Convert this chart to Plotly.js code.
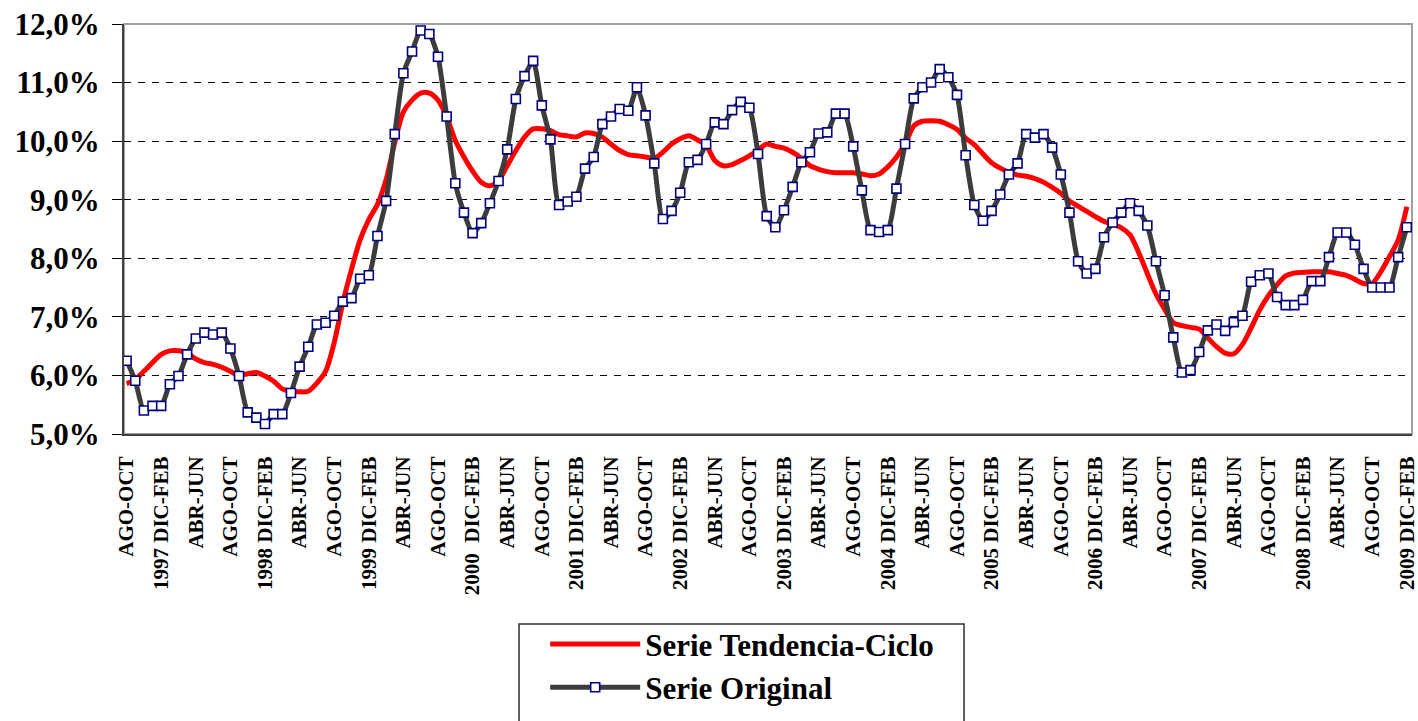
<!DOCTYPE html>
<html>
<head>
<meta charset="utf-8">
<script src="https://cdn.plot.ly/plotly-3.0.1.min.js"></script>
<style>
  html, body { margin: 0; padding: 0; background: #fff; }
  #chart { width: 1418px; height: 721px; }
</style>
</head>
<body>
<div id="chart"></div>
<script>
// Monthly rolling trimesters, AGO-OCT 1996 .. DIC-FEB 2009 (values in %)
const original = [
  6.25, 5.91, 5.40, 5.48, 5.48, 5.85, 5.99, 6.36, 6.63, 6.73, 6.70, 6.73, 6.46, 5.99,
  5.37, 5.28, 5.17, 5.34, 5.34, 5.70, 6.15, 6.49, 6.87, 6.90, 7.02, 7.26, 7.32, 7.65,
  7.71, 8.38, 8.98, 10.12, 11.16, 11.53, 11.89, 11.83, 11.44, 10.42, 9.28, 8.78, 8.43,
  8.60, 8.94, 9.32, 9.86, 10.72, 11.11, 11.37, 10.61, 10.03, 8.91, 8.97, 9.05, 9.53,
  9.73, 10.29, 10.42, 10.55, 10.52, 10.92, 10.44, 9.62, 8.67, 8.81, 9.12, 9.64, 9.68,
  9.95, 10.32, 10.29, 10.53, 10.67, 10.57, 9.78, 8.72, 8.53, 8.82, 9.22, 9.64, 9.81,
  10.13, 10.15, 10.47, 10.47, 9.91, 9.16, 8.48, 8.45, 8.48, 9.19, 9.95, 10.73, 10.92,
  11.00, 11.23, 11.09, 10.79, 9.76, 8.91, 8.64, 8.81, 9.09, 9.43, 9.62, 10.12, 10.06,
  10.12, 9.89, 9.43, 8.78, 7.95, 7.74, 7.82, 8.36, 8.61, 8.78, 8.94, 8.81, 8.56, 7.95,
  7.37, 6.65, 6.05, 6.09, 6.40, 6.77, 6.87, 6.76, 6.91, 7.02, 7.60, 7.71, 7.74, 7.34,
  7.20, 7.20, 7.29, 7.61, 7.61, 8.02, 8.44, 8.44, 8.23, 7.82, 7.50, 7.50, 7.50, 8.02,
  8.53
];

const trend = [
  5.86, 5.93, 6.07, 6.22, 6.36, 6.42, 6.42, 6.39, 6.28, 6.22, 6.19, 6.14, 6.07, 6.00,
  6.03, 6.05, 5.99, 5.90, 5.77, 5.73, 5.72, 5.73, 5.87, 6.07, 6.56, 7.24, 7.81, 8.32,
  8.66, 8.92, 9.34, 9.98, 10.50, 10.70, 10.82, 10.82, 10.70, 10.42, 10.01, 9.73, 9.49,
  9.30, 9.24, 9.33, 9.58, 9.84, 10.07, 10.21, 10.21, 10.18, 10.11, 10.09, 10.07, 10.14,
  10.13, 10.07, 9.95, 9.84, 9.77, 9.75, 9.73, 9.71, 9.81, 9.95, 10.04, 10.09, 10.02,
  9.93, 9.67, 9.58, 9.60, 9.67, 9.75, 9.85, 9.95, 9.91, 9.88, 9.81, 9.71, 9.58,
  9.52, 9.48, 9.46, 9.46, 9.46, 9.44, 9.41, 9.44, 9.56, 9.73, 9.95, 10.26, 10.34,
  10.35, 10.34, 10.28, 10.20, 10.05, 9.94, 9.78, 9.63, 9.54, 9.47, 9.42, 9.40, 9.36,
  9.30, 9.21, 9.11, 8.98, 8.89, 8.80, 8.71, 8.63, 8.58, 8.52, 8.40, 8.10, 7.74, 7.39,
  7.13, 6.90, 6.85, 6.82, 6.79, 6.64, 6.49, 6.38, 6.37, 6.53, 6.81, 7.12, 7.36, 7.55,
  7.70, 7.75, 7.76, 7.77, 7.77, 7.77, 7.74, 7.71, 7.64, 7.57, 7.57, 7.77, 8.03, 8.31,
  8.88
];

const tickLabels = [
  'AGO-OCT', '1997 DIC-FEB', 'ABR-JUN', 'AGO-OCT', '1998 DIC-FEB', 'ABR-JUN',
  'AGO-OCT', '1999 DIC-FEB', 'ABR-JUN', 'AGO-OCT', '2000\u00a0 DIC-FEB', 'ABR-JUN',
  'AGO-OCT', '2001 DIC-FEB', 'ABR-JUN', 'AGO-OCT', '2002 DIC-FEB', 'ABR-JUN',
  'AGO-OCT', '2003 DIC-FEB', 'ABR-JUN', 'AGO-OCT', '2004 DIC-FEB', 'ABR-JUN',
  'AGO-OCT', '2005 DIC-FEB', 'ABR-JUN', 'AGO-OCT', '2006 DIC-FEB', 'ABR-JUN',
  'AGO-OCT', '2007 DIC-FEB', 'ABR-JUN', 'AGO-OCT', '2008 DIC-FEB', 'ABR-JUN',
  'AGO-OCT', '2009 DIC-FEB'
];

const yTickVals = [5, 6, 7, 8, 9, 10, 11, 12];
const yTickLabels = ['5,0%', '6,0%', '7,0%', '8,0%', '9,0%', '10,0%', '11,0%', '12,0%'];

const MONTHS = ['ENE', 'FEB', 'MAR', 'ABR', 'MAY', 'JUN', 'JUL', 'AGO', 'SEP', 'OCT', 'NOV', 'DIC'];

// one category per rolling trimester, first one starting in August 1996
const periods = original.map((_, i) => {
  const m = (7 + i) % 12;
  const yr = 1996 + Math.floor((7 + i) / 12);
  return MONTHS[m] + '-' + MONTHS[(m + 2) % 12] + ' ' + yr;
});
const tickVals = periods.filter((_, i) => i % 4 === 0);

const FONT = 'Liberation Serif';

const traces = [
  {
    name: 'Serie Tendencia-Ciclo',
    x: periods, y: trend,
    type: 'scatter', mode: 'lines',
    line: { color: '#ff0000', width: 5, shape: 'spline', smoothing: 0.8 },
    legendgroup: 'a',
  },
  {
    name: 'Serie Original',
    x: periods, y: original,
    type: 'scatter', mode: 'lines+markers',
    line: { color: '#3c3c3c', width: 5, shape: 'spline', smoothing: 0.6 },
    marker: { symbol: 'square', size: 9, color: '#ffffff', line: { color: '#000080', width: 1.6 } },
    legendgroup: 'b',
  },
];

const layout = {
  width: 1418,
  height: 721,
  margin: { l: 124, r: 6, t: 24, b: 287 },
  paper_bgcolor: '#ffffff',
  plot_bgcolor: '#ffffff',
  font: { family: FONT, size: 21, color: '#000000', weight: 'bold' },
  showlegend: true,
  legend: {
    x: 0.327, xanchor: 'left',
    y: -0.447, yanchor: 'top',
    borderwidth: 0,
    bgcolor: 'rgba(0,0,0,0)',
    font: { family: FONT, size: 31, color: '#000000', weight: 'bold' },
    itemwidth: 90,
    tracegroupgap: 0,
  },
  xaxis: {
    type: 'category',
    categoryorder: 'array',
    categoryarray: periods,
    range: [-0.3, 148.6],
    tickmode: 'array',
    tickvals: tickVals,
    ticktext: tickLabels,
    tickangle: -90,
    tickfont: { family: FONT, size: 21, color: '#000000', weight: 'bold' },
    ticks: '',
    ticklabelstandoff: 12,
    showgrid: false,
    zeroline: false,
    showline: true,
    linecolor: '#404040',
    linewidth: 2,
  },
  yaxis: {
    range: [5, 12],
    tickmode: 'array',
    tickvals: yTickVals,
    ticktext: yTickLabels,
    tickfont: { family: FONT, size: 31, color: '#000000', weight: 'bold' },
    ticks: 'outside',
    ticklen: 10,
    tickcolor: '#000000',
    ticklabelstandoff: 6,
    showgrid: true,
    gridcolor: '#000000',
    gridwidth: 1,
    griddash: '7px,7px',
    zeroline: false,
    showline: true,
    linecolor: '#404040',
    linewidth: 2,
  },
  shapes: [
    // plot frame (top/right in light gray)
    {
      type: 'rect', xref: 'paper', yref: 'paper',
      x0: 0, x1: 1, y0: 0, y1: 1,
      line: { color: '#a0a0a0', width: 2 },
      layer: 'below',
    },
    // legend frame, runs off the bottom of the picture like the original
    {
      type: 'rect', xref: 'paper', yref: 'paper',
      x0: 0.3067, x1: 0.6522, y0: -0.75, y1: -0.4634,
      line: { color: '#303030', width: 1.5 },
      fillcolor: 'rgba(0,0,0,0)',
    },
  ],
};

Plotly.newPlot('chart', traces, layout, { displayModeBar: false, staticPlot: true });
</script>
</body>
</html>
